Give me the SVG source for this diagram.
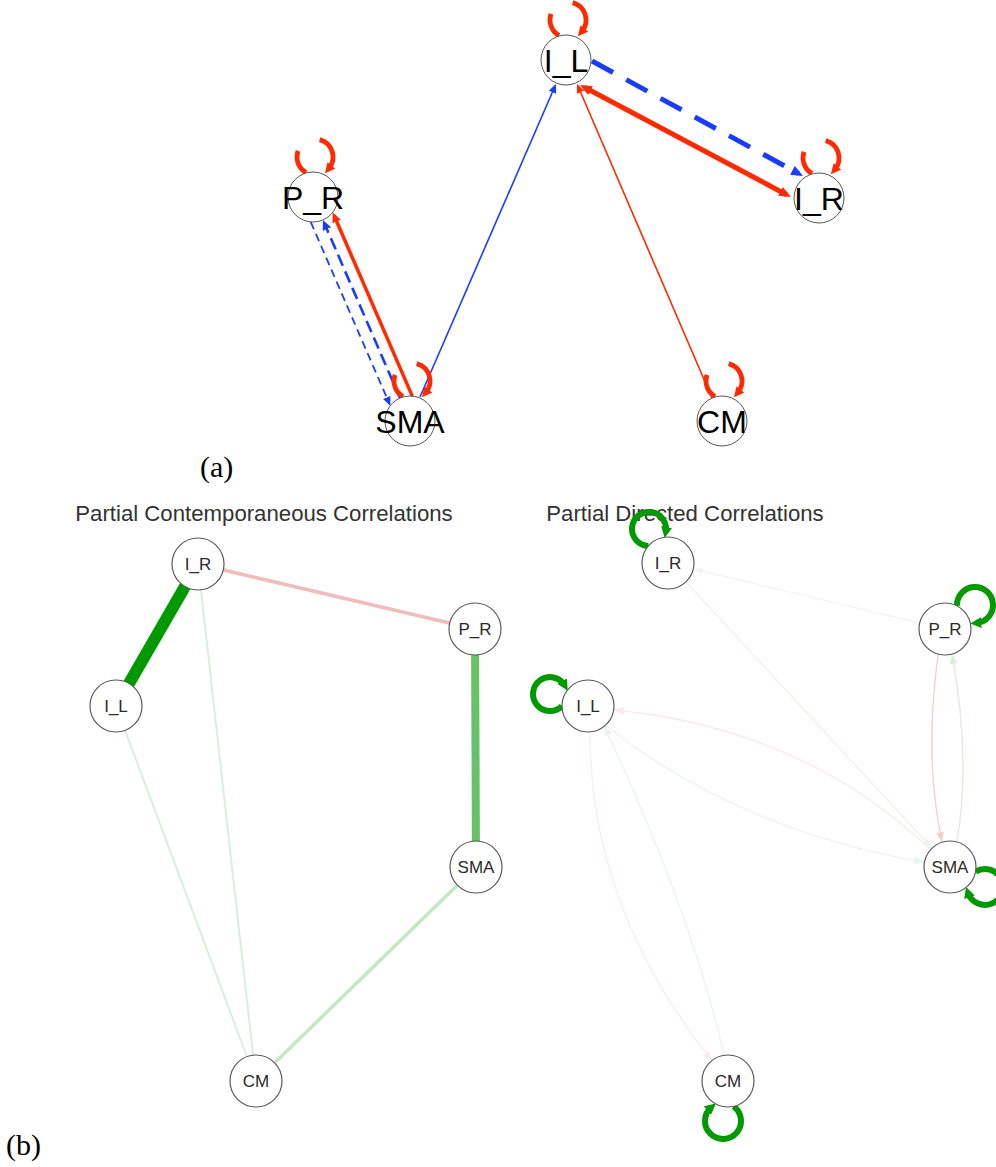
<svg xmlns="http://www.w3.org/2000/svg" xmlns:xlink="http://www.w3.org/1999/xlink" width="996" height="1167" viewBox="0 0 996 1167">
  <style>
    .bg { fill: #ffffff; }
    .nodeA { fill: #ffffff; stroke: #555555; stroke-width: 1; }
    .labA { font-family: "Liberation Sans", Arial, sans-serif; font-size: 32px; fill: #000000; text-anchor: middle; }
    .nodeB { fill: #ffffff; stroke: #5a5a5a; stroke-width: 1.2; }
    .labB { font-family: "Liberation Sans", Arial, sans-serif; font-size: 17px; fill: #2a2a2a; text-anchor: middle; }
    .title { font-family: "Liberation Sans", Arial, sans-serif; font-size: 22.2px; fill: #333333; text-anchor: middle; }
    .panel { font-family: "Liberation Serif", "Times New Roman", serif; font-size: 30px; fill: #000000; }
    .e { fill: none; }
    .red { stroke: #ff2a00; }
    .blue { stroke: #1a3cff; }
    .loopR { fill: none; stroke: #ff2a00; stroke-width: 4.8; }
    .loopG { fill: none; stroke: #009900; stroke-width: 6; }
  </style>
  <defs>
    <marker id="arrRedS" markerUnits="userSpaceOnUse" markerWidth="9" markerHeight="8" refX="7" refY="4" orient="auto"><path d="M0,0 L9,4 L0,8 z" fill="#ff2a00"/></marker>
    <marker id="arrBlueS" markerUnits="userSpaceOnUse" markerWidth="9" markerHeight="8" refX="7" refY="4" orient="auto"><path d="M0,0 L9,4 L0,8 z" fill="#1a3cff"/></marker>
    <marker id="arrRedM" markerUnits="userSpaceOnUse" markerWidth="10" markerHeight="9" refX="6" refY="4.5" orient="auto"><path d="M0,0 L10,4.5 L0,9 z" fill="#ff2a00"/></marker>
    <marker id="arrBlueM" markerUnits="userSpaceOnUse" markerWidth="10" markerHeight="9" refX="7" refY="4.5" orient="auto"><path d="M0,0 L10,4.5 L0,9 z" fill="#1a3cff"/></marker>
    <marker id="arrRedL" markerUnits="userSpaceOnUse" markerWidth="12" markerHeight="10" refX="7" refY="5" orient="auto-start-reverse"><path d="M0,0 L12,5 L0,10 z" fill="#ff2a00"/></marker>
    <marker id="arrBlueL" markerUnits="userSpaceOnUse" markerWidth="12" markerHeight="10" refX="7" refY="5" orient="auto"><path d="M0,0 L12,5 L0,10 z" fill="#1a3cff"/></marker>
    <marker id="arrRedLoop" markerUnits="userSpaceOnUse" markerWidth="10" markerHeight="10" refX="4" refY="5" orient="auto"><path d="M0,0 L10,5 L0,10 z" fill="#ff2a00"/></marker>
    <marker id="arrGreenLoop" markerUnits="userSpaceOnUse" markerWidth="11" markerHeight="11" refX="5" refY="5.5" orient="auto"><path d="M0,0 L11,5.5 L0,11 z" fill="#009900"/></marker>
    <marker id="arrPinkA" markerUnits="userSpaceOnUse" markerWidth="10" markerHeight="8" refX="10" refY="4" orient="auto"><path d="M0,0 L10,4 L0,8 z" fill="#f1d0d0"/></marker>
    <marker id="arrPinkB" markerUnits="userSpaceOnUse" markerWidth="10" markerHeight="8" refX="10" refY="4" orient="auto"><path d="M0,0 L10,4 L0,8 z" fill="#f9eaea"/></marker>
    <marker id="arrGreenA" markerUnits="userSpaceOnUse" markerWidth="10" markerHeight="8" refX="10" refY="4" orient="auto"><path d="M0,0 L10,4 L0,8 z" fill="#dcefdc"/></marker>
    <marker id="arrGreenB" markerUnits="userSpaceOnUse" markerWidth="10" markerHeight="8" refX="10" refY="4" orient="auto"><path d="M0,0 L10,4 L0,8 z" fill="#eaf5ea"/></marker>
    <marker id="arrGrey" markerUnits="userSpaceOnUse" markerWidth="10" markerHeight="8" refX="10" refY="4" orient="auto"><path d="M0,0 L10,4 L0,8 z" fill="#f6f3f3"/></marker>
    <!-- red self-loop drawn around its own centre -->
    <g id="redLoop">
      <path class="loopR" d="M-9,15.59 A18,18 0 0 1 -16.91,-6.16"/>
      <path class="loopR" d="M4.66,-17.39 A18,18 0 0 1 13.79,11.57" marker-end="url(#arrRedLoop)"/>
    </g>
  </defs>

  <rect class="bg" x="0" y="0" width="996" height="1167"/>

  <!-- ===== panel (a) ===== -->
  <g id="connectors-a">
    <line class="e blue" stroke-width="1.6" x1="420" y1="397" x2="555.2" y2="85.8" marker-end="url(#arrBlueS)"/>
    <line class="e red" stroke-width="1.6" x1="712" y1="398" x2="577.8" y2="85.8" marker-end="url(#arrRedS)"/>
    <line class="e red" stroke-width="5" x1="584.4" y1="87.3" x2="786.6" y2="194.7" marker-start="url(#arrRedL)" marker-end="url(#arrRedL)"/>
    <line class="e blue" stroke-width="5" stroke-dasharray="24 15" x1="592" y1="61" x2="798.6" y2="173.6" marker-end="url(#arrBlueL)"/>
    <line class="e red" stroke-width="3.5" x1="412.3" y1="396.1" x2="334.3" y2="216" marker-end="url(#arrRedM)"/>
    <line class="e blue" stroke-width="2.6" stroke-dasharray="12 6" x1="400" y1="398" x2="324.1" y2="222.7" marker-end="url(#arrBlueM)"/>
    <line class="e blue" stroke-width="1.8" stroke-dasharray="8 5" x1="310.7" y1="221.9" x2="389.5" y2="403.9" marker-end="url(#arrBlueS)"/>
    <use xlink:href="#redLoop" href="#redLoop" x="568" y="20"/>
    <use xlink:href="#redLoop" href="#redLoop" x="821" y="158"/>
    <use xlink:href="#redLoop" href="#redLoop" x="315" y="157"/>
    <use xlink:href="#redLoop" href="#redLoop" x="412" y="381"/>
    <use xlink:href="#redLoop" href="#redLoop" x="724" y="381"/>
  </g>
  <g id="a-I_L"><circle class="nodeA" cx="566" cy="60" r="25"/><text class="labA" x="566" y="72">I_L</text></g>
  <g id="a-I_R"><circle class="nodeA" cx="819" cy="198" r="25"/><text class="labA" x="819" y="210">I_R</text></g>
  <g id="a-P_R"><circle class="nodeA" cx="313" cy="197" r="25"/><text class="labA" x="313" y="209">P_R</text></g>
  <g id="a-SMA"><circle class="nodeA" cx="410" cy="421" r="25"/><text class="labA" x="410" y="433">SMA</text></g>
  <g id="a-CM"><circle class="nodeA" cx="722" cy="421" r="25"/><text class="labA" x="722" y="433">CM</text></g>
  <text class="panel" x="200" y="477">(a)</text>

  <!-- ===== panel (b), left: contemporaneous network ===== -->
  <text class="title" x="264" y="521">Partial Contemporaneous Correlations</text>
  <g id="connectors-b1">
    <line class="e" stroke="#009900" stroke-width="12" x1="198" y1="564" x2="116" y2="706"/>
    <line class="e" stroke="#f0bcbc" stroke-width="3.5" x1="198" y1="564" x2="475" y2="629"/>
    <line class="e" stroke="#d9efd9" stroke-width="2" x1="198" y1="564" x2="256" y2="1081"/>
    <line class="e" stroke="#d9efd9" stroke-width="2" x1="116" y1="706" x2="256" y2="1081"/>
    <line class="e" stroke="#66c266" stroke-width="8" x1="475" y1="629" x2="476" y2="867"/>
    <line class="e" stroke="#c4e7c4" stroke-width="3.5" x1="476" y1="867" x2="256" y2="1081"/>
  </g>
  <g id="b1-I_R"><circle class="nodeB" cx="198" cy="564" r="26"/><text class="labB" x="198" y="570">I_R</text></g>
  <g id="b1-P_R"><circle class="nodeB" cx="475" cy="629" r="26"/><text class="labB" x="475" y="635">P_R</text></g>
  <g id="b1-I_L"><circle class="nodeB" cx="116" cy="706" r="26"/><text class="labB" x="116" y="712">I_L</text></g>
  <g id="b1-SMA"><circle class="nodeB" cx="476" cy="867" r="26"/><text class="labB" x="476" y="873">SMA</text></g>
  <g id="b1-CM"><circle class="nodeB" cx="256" cy="1081" r="26"/><text class="labB" x="256" y="1087">CM</text></g>

  <!-- ===== panel (b), right: directed network ===== -->
  <text class="title" x="685" y="521">Partial Directed Correlations</text>
  <g id="connectors-b2">
    <line class="e" stroke="#f6f3f3" stroke-width="1.3" x1="919.7" y1="623" x2="693.3" y2="569" marker-end="url(#arrGrey)"/>
    <line class="e" stroke="#e8f4e8" stroke-width="1.3" x1="685" y1="581" x2="932" y2="848" marker-end="url(#arrGreenB)"/>
    <path class="e" stroke="#f9eaea" stroke-width="1.3" d="M931,850 Q803,728 614,710" marker-end="url(#arrPinkB)"/>
    <path class="e" stroke="#eaf5ea" stroke-width="1.3" d="M605,725 Q740,831 924,862" marker-end="url(#arrGreenB)"/>
    <path class="e" stroke="#f1d0d0" stroke-width="1.4" d="M938,655 Q924,758 942,842" marker-end="url(#arrPinkA)"/>
    <path class="e" stroke="#dcefdc" stroke-width="1.4" d="M957,842 Q971,758 952,654" marker-end="url(#arrGreenA)"/>
    <path class="e" stroke="#f9eded" stroke-width="1.3" d="M590,732 Q589,905 712,1061" marker-end="url(#arrPinkB)"/>
    <path class="e" stroke="#eaf5ea" stroke-width="1.3" d="M724,1055 Q690,908 604,726" marker-end="url(#arrGreenB)"/>
    <path class="loopG" d="M648.4,545.9 A17,17 0 1 1 665.7,532" marker-end="url(#arrGreenLoop)"/>
    <path class="loopG" d="M957,605.9 A18,18 0 1 1 976.3,623" marker-end="url(#arrGreenLoop)"/>
    <path class="loopG" d="M562,706.1 A17,17 0 1 1 564.7,685.5" marker-end="url(#arrGreenLoop)"/>
    <path class="loopG" d="M975.6,871.6 A18,18 0 1 1 967.9,892.6" marker-end="url(#arrGreenLoop)"/>
    <path class="loopG" d="M733.6,1106.4 A18,18 0 1 1 711.3,1107.3" marker-end="url(#arrGreenLoop)"/>
  </g>
  <g id="b2-I_R"><circle class="nodeB" cx="668" cy="563" r="26"/><text class="labB" x="668" y="569">I_R</text></g>
  <g id="b2-P_R"><circle class="nodeB" cx="945" cy="629" r="26"/><text class="labB" x="945" y="635">P_R</text></g>
  <g id="b2-I_L"><circle class="nodeB" cx="588" cy="706" r="26"/><text class="labB" x="588" y="712">I_L</text></g>
  <g id="b2-SMA"><circle class="nodeB" cx="950" cy="867" r="26"/><text class="labB" x="950" y="873">SMA</text></g>
  <g id="b2-CM"><circle class="nodeB" cx="728" cy="1081" r="26"/><text class="labB" x="728" y="1087">CM</text></g>

  <text class="panel" x="6" y="1155">(b)</text>
</svg>
